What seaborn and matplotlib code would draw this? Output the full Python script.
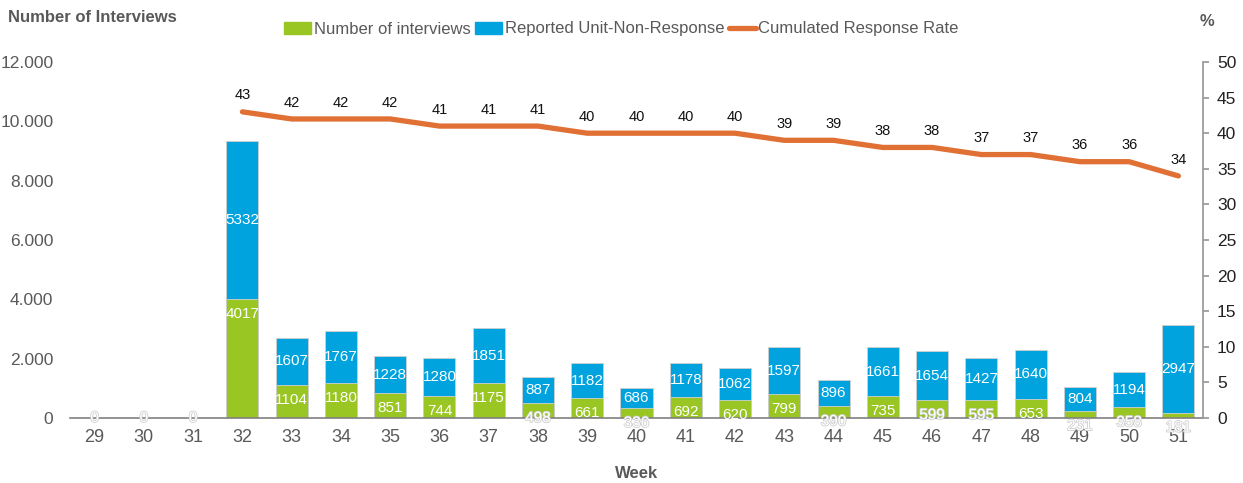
import matplotlib
matplotlib.use('Agg')
import matplotlib.pyplot as plt
import matplotlib.patheffects as pe
from matplotlib.lines import Line2D
from matplotlib.patches import Patch
from matplotlib.ticker import FuncFormatter
import numpy as np
import pandas as pd
import seaborn as sns

weeks = list(range(29, 52))
interviews = [0, 0, 0, 4017, 1104, 1180, 851, 744, 1175, 498, 661, 336, 692, 620,
              799, 390, 735, 599, 595, 653, 231, 358, 181]
nonresponse = [0, 0, 0, 5332, 1607, 1767, 1228, 1280, 1851, 887, 1182, 686, 1178, 1062,
               1597, 896, 1661, 1654, 1427, 1640, 804, 1194, 2947]
rate_weeks = list(range(32, 52))
rate = [43, 42, 42, 42, 41, 41, 41, 40, 40, 40, 40, 39, 39, 38, 38, 37, 37, 36, 36, 34]

green = '#99C623'
blue = '#00A3DE'
orange = '#E07034'
grey = '#595959'

sns.set_theme(style='white')
plt.rcParams['font.family'] = ['Liberation Sans', 'DejaVu Sans']

df = pd.DataFrame({'week': weeks, 'interviews': interviews, 'nonresponse': nonresponse})
df['total'] = df['interviews'] + df['nonresponse']

fig = plt.figure(figsize=(12.43, 4.83), dpi=100)
ax = fig.add_axes([70 / 1243, 1 - 418 / 483, 1133 / 1243, 356 / 483])

sns.barplot(data=df, x='week', y='total', color=blue, width=0.65, saturation=1,
            edgecolor='#d0d0d0', linewidth=0.6, ax=ax)
sns.barplot(data=df, x='week', y='interviews', color=green, width=0.65, saturation=1,
            edgecolor='#d0d0d0', linewidth=0.6, ax=ax)

ax.set_ylim(0, 12000)
ax.set_xlim(-0.5, len(weeks) - 0.5)
ax.yaxis.set_major_locator(matplotlib.ticker.MultipleLocator(2000))
ax.yaxis.set_major_formatter(FuncFormatter(lambda v, p: f'{int(v):,}'.replace(',', '.')))
ax.tick_params(axis='y', labelsize=12.5, colors=grey, length=0, pad=12)
ax.tick_params(axis='x', labelsize=13, colors=grey, length=0, pad=8)
for s in ['left', 'top', 'right']:
    ax.spines[s].set_visible(False)
ax.spines['bottom'].set_color('#808080')
ax.spines['bottom'].set_linewidth(1.2)
ax.set_xlabel('Week', fontsize=12, fontweight='bold', color=grey, labelpad=14)
ax.set_ylabel('')

outline = [pe.withStroke(linewidth=1.1, foreground='#cccccc')]
for i, row in df.iterrows():
    g, b = row['interviews'], row['nonresponse']
    gy = g - 506 if g > 0 else 0
    t = ax.text(i, gy, str(g), ha='center', va='center', color='white', fontsize=11)
    if g < 600:
        t.set_path_effects(outline)
    if b > 0:
        ax.text(i, g + b / 2, str(b), ha='center', va='center', color='white', fontsize=11)

ax2 = ax.twinx()
rx = [weeks.index(w) for w in rate_weeks]
sns.lineplot(x=rx, y=rate, color=orange, linewidth=3.8, ax=ax2)
ax2.set_ylim(0, 50)
ax2.set_xlim(-0.5, len(weeks) - 0.5)
ax2.yaxis.set_major_locator(matplotlib.ticker.MultipleLocator(5))
ax2.tick_params(axis='y', labelsize=12.5, colors='#222222', length=4, pad=6, color='#999999')
for s in ['left', 'top', 'bottom']:
    ax2.spines[s].set_visible(False)
ax2.spines['right'].set_color('#999999')
for x, r in zip(rx, rate):
    ax2.text(x, r + 2.3, str(r), ha='center', va='center', fontsize=10.5, color='#111111')

fig.text(8 / 1243, 1 - 18 / 483, 'Number of Interviews', fontsize=12, fontweight='bold',
         color=grey, va='center')
fig.text(1200 / 1243, 1 - 22 / 483, '%', fontsize=12, fontweight='bold', color=grey, va='center')

handles = [Patch(color=green), Patch(color=blue), Line2D([], [], color=orange, linewidth=3.8)]
fig.legend(handles, ['Number of interviews', 'Reported Unit-Non-Response', 'Cumulated Response Rate'],
           loc='center', bbox_to_anchor=(0.5, 1 - 29 / 483), ncol=3, frameon=False,
           fontsize=12, labelcolor=grey, handlelength=1.6, handletextpad=0.15,
           columnspacing=0.3)

fig.savefig('out.png', dpi=100)
